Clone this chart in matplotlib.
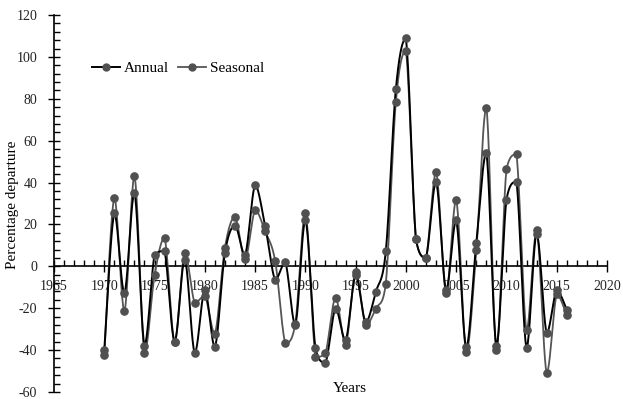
import numpy as np
import matplotlib
matplotlib.use("Agg")
import matplotlib.pyplot as plt
from matplotlib.ticker import MultipleLocator
from matplotlib.lines import Line2D

plt.rcParams['font.family'] = ['Liberation Serif', 'DejaVu Serif']
plt.rcParams['axes.unicode_minus'] = False

years = list(range(1970, 2017))
annual = [-40, 25.5, -12.7, 35.2, -37.8, 5.3, 7.3, -35.9, 3.2, -41.4,
          -11.5, -38.6, 6.4, 19.3, 5.3, 38.7, 19.3, -6.5, 2, -27.9,
          22, -38.9, -46, -20.2, -35.4, -4.3, -26.6, -12.3, 7.3, 84.6,
          108.8, 12.9, 4.2, 40.3, -11.5, 22, -38.6, 11.1, 54.2, -37.8,
          31.9, 40.3, -38.9, 15.6, -31.9, -11.5, -20.7]
seasonal = [-42.5, 32.8, -21.3, 43, -41.4, -4.3, 13.7, -35.9, 6.4, -17.5,
            -14, -32.2, 8.9, 23.6, 3.3, 26.8, 16.7, 2.5, -36.6, -27.4,
            25.5, -43.3, -41.4, -15, -37.4, -2.7, -28.2, -20.2, -8.3, 78.5,
            102.9, 12.9, 4.2, 45, -12.8, 31.9, -41, 7.6, 75.7, -39.8,
            46.4, 53.4, -30.6, 17.2, -51, -13.4, -23.4]


def smooth(x, y, n=24):
    """Smoothed line as cubic Bezier segments, control points kept within each segment's range."""
    x = np.asarray(x, float)
    y = np.asarray(y, float)
    m = len(x)
    t = np.linspace(0, 1, n)
    xs, ys = [], []
    for i in range(m - 1):
        i0 = max(i - 1, 0)
        i3 = min(i + 2, m - 1)
        x1, y1, x2, y2 = x[i], y[i], x[i + 1], y[i + 1]
        c1x = x1 + (x2 - x[i0]) / 6.0
        c1y = y1 + (y2 - y[i0]) / 6.0
        c2x = x2 - (x[i3] - x1) / 6.0
        c2y = y2 - (y[i3] - y1) / 6.0
        lo, hi = min(y1, y2), max(y1, y2)
        c1y = min(max(c1y, lo), hi)
        c2y = min(max(c2y, lo), hi)
        bx = (1 - t) ** 3 * x1 + 3 * (1 - t) ** 2 * t * c1x + 3 * (1 - t) * t ** 2 * c2x + t ** 3 * x2
        by = (1 - t) ** 3 * y1 + 3 * (1 - t) ** 2 * t * c1y + 3 * (1 - t) * t ** 2 * c2y + t ** 3 * y2
        if i > 0:
            bx, by = bx[1:], by[1:]
        xs.append(bx)
        ys.append(by)
    return np.concatenate(xs), np.concatenate(ys)


fig = plt.figure(figsize=(6.23, 3.99), dpi=100)
ax = fig.add_axes([54 / 623, 7 / 399, (607 - 54) / 623, (392 - 15) / 399])

black = '#000000'
gray = '#555555'
mcol = '#505050'

sx, sy = smooth(years, seasonal)
ax.plot(sx, sy, color=gray, lw=1.3, zorder=3)
ax.plot(years, seasonal, 'o', color=mcol, ms=5.2, zorder=4)
ax_x, ax_y = smooth(years, annual)
ax.plot(ax_x, ax_y, color=black, lw=1.4, zorder=3)
ax.plot(years, annual, 'o', color=mcol, ms=5.2, zorder=4)

ax.set_xlim(1965, 2020)
ax.set_ylim(-60, 120)
for s in ['top', 'right']:
    ax.spines[s].set_visible(False)
ax.spines['bottom'].set_position(('data', 0))
ax.spines['left'].set_linewidth(1.2)
ax.spines['bottom'].set_linewidth(1.2)

ax.xaxis.set_major_locator(MultipleLocator(5))
ax.xaxis.set_minor_locator(MultipleLocator(1))
ax.yaxis.set_major_locator(MultipleLocator(20))
ax.yaxis.set_minor_locator(MultipleLocator(4))
ax.tick_params(axis='both', which='major', direction='inout', length=8, width=1.0,
               labelsize=10, colors='black')
ax.tick_params(axis='x', which='minor', direction='in', length=4, width=1.0)
ax.tick_params(axis='y', which='minor', direction='in', length=4, width=1.0)
ax.tick_params(axis='x', which='major', pad=6)
ax.tick_params(axis='y', which='major', pad=8)
for lab in ax.get_xticklabels() + ax.get_yticklabels():
    lab.set_color('#222222')

fig.text(13 / 623, 1 - 205 / 399, 'Percentage departure', rotation=90,
         ha='center', va='center', fontsize=11)
fig.text(350 / 623, 1 - 388 / 399, 'Years', ha='center', va='center', fontsize=11)

handles = [Line2D([], [], color=black, lw=1.4, marker='o', ms=5, mfc=mcol, mec=mcol),
           Line2D([], [], color=gray, lw=1.3, marker='o', ms=5, mfc=mcol, mec=mcol)]
fig.legend(handles, ['Annual', 'Seasonal'], loc='center left',
           bbox_to_anchor=(92 / 623, 1 - 68 / 399), ncol=2, frameon=False,
           fontsize=11, handlelength=1.8, handletextpad=0.3, columnspacing=0.6,
           borderaxespad=0, borderpad=0)

fig.savefig('out.png', dpi=100)
